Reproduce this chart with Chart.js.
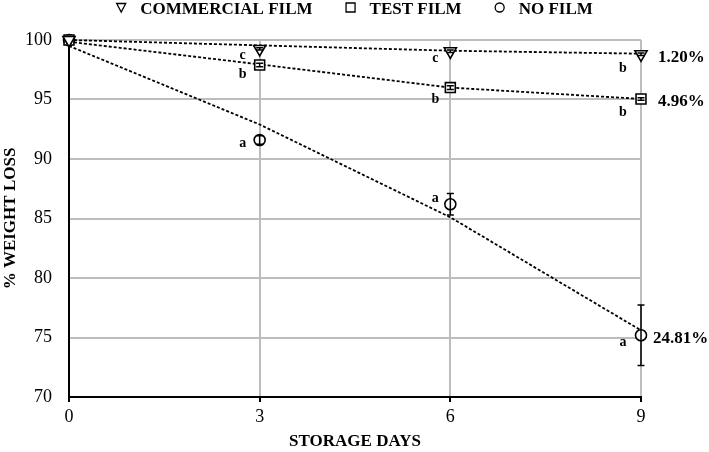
<!DOCTYPE html>
<html>
<head>
<meta charset="utf-8">
<script src="https://cdn.jsdelivr.net/npm/chart.js@4/dist/chart.umd.min.js"></script>
<style>
html, body { margin: 0; padding: 0; background: #fff; }
#wrap { width: 709px; height: 452px; position: relative; }
</style>
</head>
<body>
<div id="wrap"><canvas id="c" width="709" height="452"></canvas></div>
<script>
// ---- data ----
const days = [0, 3, 6, 9];
const xTicks = [0, 3, 6, 9];
const yTicks = [70, 75, 80, 85, 90, 95, 100];
const seriesNames = ['COMMERCIAL FILM', 'TEST FILM', 'NO FILM'];
const commercial = [100, 99.25, 99.05, 98.8];
const testFilm = [100, 97.9, 96.0, 95.04];
const noFilm = [100, 91.6, 86.2, 75.19];
const commercialErr = [0, 0.1, 0.1, 0.1];
const testFilmErr = [0, 0.15, 0.15, 0.1];
const noFilmErr = [0, 0.35, 0.9, 2.55];
const commercialTrend = [100, 99.55, 99.1, 98.85];
const testFilmTrend = [99.85, 97.95, 96.0, 95.05];
const noFilmTrend = [99.5, 92.9, 85.1, 75.6];
const commercialLetters = ['', 'c', 'c', 'b'];
const testFilmLetters = ['', 'b', 'b', 'b'];
const noFilmLetters = ['', 'a', 'a', 'a'];
const endLabels = ['1.20%', '4.96%', '24.81%'];
const xTitle = 'STORAGE DAYS';
const yTitle = '% WEIGHT LOSS';

// ---- styling ----
const FONT = "'Liberation Serif', 'Times New Roman', serif";
const GRID = '#bdbdbd';
const values = [commercial, testFilm, noFilm];
const errors = [commercialErr, testFilmErr, noFilmErr];
const trends = [commercialTrend, testFilmTrend, noFilmTrend];
const letters = [commercialLetters, testFilmLetters, noFilmLetters];
const markerStyles = [
  { pointStyle: 'triangle', radius: 7, rotation: 180 },
  { pointStyle: 'rect', radius: 7, rotation: 0 },
  { pointStyle: 'circle', radius: 5.5, rotation: 0 }
];
// letter offsets [dx, baseline dy] relative to marker
const letterOffsets = [
  [null, [-17, 10], [-15, 11], [-18, 17.5]],
  [null, [-17, 13.5], [-15, 15.5], [-18, 16.5]],
  [null, [-17, 7], [-15, -2], [-18, 11]]
];
const endLabelOffsets = [[17, 7.3], [17, 6.6], [12, 7.3]];

const toXY = arr => days.map((d, i) => ({ x: d, y: arr[i] }));

const datasets = [];
values.forEach((arr, s) => {
  datasets.push({
    label: seriesNames[s],
    data: toXY(arr),
    showLine: false,
    clip: false,
    pointStyle: markerStyles[s].pointStyle,
    pointRadius: markerStyles[s].radius,
    pointRotation: markerStyles[s].rotation,
    pointBackgroundColor: '#fff',
    pointBorderColor: '#000',
    pointBorderWidth: 1.6,
    borderColor: '#000',
    backgroundColor: '#fff',
    order: 0
  });
});
trends.forEach((arr, s) => {
  datasets.push({
    label: seriesNames[s] + ' trend',
    data: toXY(arr),
    showLine: true,
    clip: false,
    borderColor: '#000',
    borderWidth: 1.8,
    borderDash: [3, 2],
    pointRadius: 0,
    fill: false,
    tension: 0,
    order: 1
  });
});

function drawShape(ctx, shape, x, y) {
  ctx.beginPath();
  if (shape === 'triangle') {
    ctx.moveTo(x - 4.5, y - 4);
    ctx.lineTo(x + 4.5, y - 4);
    ctx.lineTo(x, y + 4.5);
    ctx.closePath();
  } else if (shape === 'rect') {
    ctx.rect(x - 4.5, y - 4.5, 9, 9);
  } else {
    ctx.arc(x, y, 4.5, 0, Math.PI * 2);
  }
  ctx.fillStyle = '#fff';
  ctx.fill();
  ctx.stroke();
}

const annotate = {
  id: 'annotate',
  afterDatasetsDraw(chart) {
    const ctx = chart.ctx;
    const ys = chart.scales.y;
    ctx.save();
    ctx.strokeStyle = '#000';
    ctx.lineWidth = 1.5;
    values.forEach((arr, s) => {
      const meta = chart.getDatasetMeta(s);
      meta.data.forEach((pt, i) => {
        const e = errors[s][i];
        if (!e) return;
        const top = ys.getPixelForValue(arr[i] + e);
        const bot = ys.getPixelForValue(arr[i] - e);
        ctx.beginPath();
        ctx.moveTo(pt.x, top); ctx.lineTo(pt.x, bot);
        ctx.moveTo(pt.x - 3.5, top); ctx.lineTo(pt.x + 3.5, top);
        ctx.moveTo(pt.x - 3.5, bot); ctx.lineTo(pt.x + 3.5, bot);
        ctx.stroke();
      });
    });
    // significance letters
    ctx.fillStyle = '#000';
    ctx.font = 'bold 14px ' + FONT;
    ctx.textAlign = 'center';
    ctx.textBaseline = 'alphabetic';
    letters.forEach((arr, s) => {
      const meta = chart.getDatasetMeta(s);
      meta.data.forEach((pt, i) => {
        if (!arr[i]) return;
        const o = letterOffsets[s][i];
        ctx.fillText(arr[i], pt.x + o[0], pt.y + o[1]);
      });
    });
    // end labels
    ctx.font = 'bold 17px ' + FONT;
    ctx.textAlign = 'left';
    endLabels.forEach((txt, s) => {
      const meta = chart.getDatasetMeta(s);
      const pt = meta.data[meta.data.length - 1];
      const o = endLabelOffsets[s];
      ctx.fillText(txt, pt.x + o[0], pt.y + o[1]);
    });
    ctx.restore();
  },
  afterDraw(chart) {
    // legend
    const ctx = chart.ctx;
    ctx.save();
    ctx.font = 'bold 17px ' + FONT;
    ctx.textBaseline = 'alphabetic';
    ctx.textAlign = 'left';
    const gapText = 19, gapItem = 38;
    const widths = seriesNames.map(t => ctx.measureText(t).width);
    const total = 5 + widths.reduce((a, w) => a + gapText + w, 0) + gapItem * (seriesNames.length - 1);
    let x = chart.width / 2 - total / 2 + 5;
    ctx.strokeStyle = '#000';
    ctx.lineWidth = 1.3;
    seriesNames.forEach((name, s) => {
      drawShape(ctx, markerStyles[s].pointStyle, x, 7.5);
      ctx.fillStyle = '#000';
      ctx.fillText(name, x + gapText, 13.5);
      x += gapText + widths[s] + gapItem;
    });
    ctx.restore();
  }
};

new Chart(document.getElementById('c'), {
  type: 'line',
  data: { datasets },
  options: {
    responsive: false,
    animation: false,
    layout: { padding: { top: 40, right: 68, left: 0, bottom: 0 } },
    plugins: {
      legend: { display: false },
      tooltip: { enabled: false }
    },
    scales: {
      x: {
        type: 'linear',
        min: 0, max: 9,
        afterFit: s => { s.height = 55; },
        afterBuildTicks: s => { s.ticks = xTicks.map(v => ({ value: v })); },
        ticks: { color: '#000', font: { family: FONT, size: 18 }, padding: 4 },
        grid: { color: GRID, lineWidth: 2, drawTicks: true, tickLength: 5, tickColor: '#000', tickWidth: 2 },
        border: { color: '#000', width: 2 },
        title: { display: true, text: xTitle, color: '#000', font: { family: FONT, size: 17, weight: 'bold' }, padding: { top: 0, bottom: 0 } }
      },
      y: {
        min: 70, max: 100,
        afterFit: s => { s.width = 69; },
        afterBuildTicks: s => { s.ticks = yTicks.map(v => ({ value: v })); },
        ticks: { color: '#000', font: { family: FONT, size: 18 }, padding: 17 },
        grid: { color: GRID, lineWidth: 2, drawTicks: false },
        border: { color: '#000', width: 2 },
        title: { display: true, text: yTitle, color: '#000', font: { family: FONT, size: 17, weight: 'bold' }, padding: { top: 0, bottom: 0 } }
      }
    }
  },
  plugins: [annotate]
});
</script>
</body>
</html>
